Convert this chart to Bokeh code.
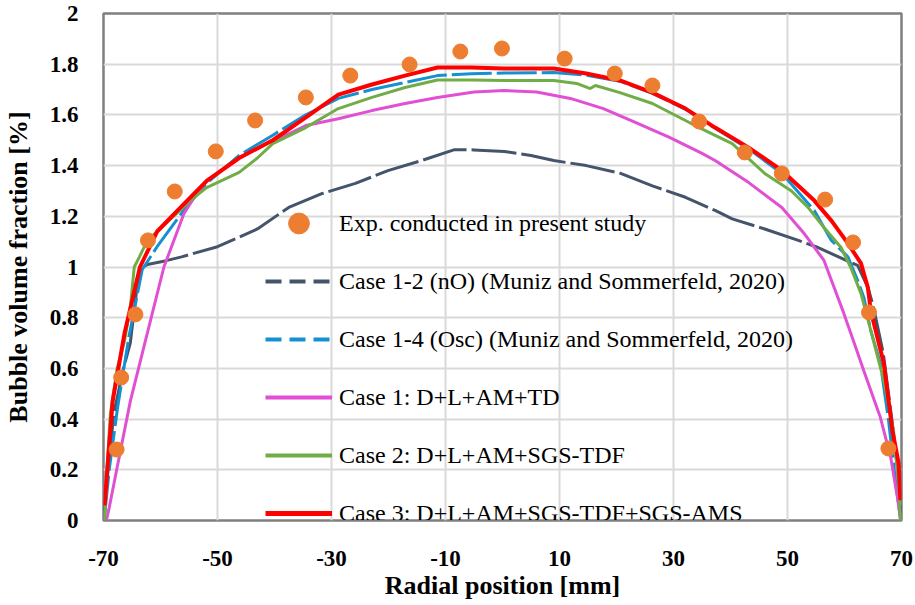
from bokeh.plotting import figure
from bokeh.models import Range1d, FixedTicker, Legend, LegendItem
from bokeh.embed import file_html
from bokeh.resources import INLINE

# ---------------- data ----------------
x_ticks = [-70, -50, -30, -10, 10, 30, 50, 70]
x_tick_labels = ["-70", "-50", "-30", "-10", "10", "30", "50", "70"]
y_ticks = [0, 0.2, 0.4, 0.6, 0.8, 1.0, 1.2, 1.4, 1.6, 1.8, 2.0]
y_tick_labels = ["0", "0.2", "0.4", "0.6", "0.8", "1", "1.2", "1.4", "1.6", "1.8", "2"]

exp_x = [-67.7, -66.9, -64.4, -62.2, -57.5, -50.3, -43.4, -34.5, -26.7, -16.3, -7.4,
         -0.1, 10.9, 19.7, 26.3, 34.5, 42.5, 49.0, 56.6, 61.5, 64.3, 67.7]
exp_y = [0.28, 0.564, 0.813, 1.105, 1.298, 1.456, 1.578, 1.669, 1.755, 1.799, 1.850,
         1.862, 1.822, 1.763, 1.716, 1.574, 1.452, 1.369, 1.266, 1.097, 0.821, 0.284]

case12_x = [-69.8, -69.2, -68.2, -66.5, -65.3, -64.5, -63.9, -63.7, -62.3, -59.0, -56.3,
            -50.0, -43.0, -37.5, -31.6, -25.8, -20.1, -14.2, -8.4, -5.0, 0.3, 5.0, 9.0,
            14.7, 20.6, 26.3, 32.1, 37.3, 40.3, 46.0, 51.9, 55.0, 57.7, 62.3, 64.1, 65.0,
            66.8, 68.3, 69.3, 69.9]
case12_y = [0.04, 0.2, 0.42, 0.6, 0.7, 0.85, 0.96, 0.99, 1.01, 1.025, 1.04,
            1.08, 1.15, 1.235, 1.29, 1.33, 1.38, 1.42, 1.463, 1.462, 1.456, 1.44, 1.42,
            1.40, 1.37, 1.32, 1.275, 1.223, 1.19, 1.15, 1.105, 1.08, 1.053, 1.006, 0.92, 0.85,
            0.66, 0.4, 0.2, 0.03]

case14_x = [-69.8, -69.0, -67.5, -65.5, -63.2, -60.6, -55.4, -51.9, -46.2, -40.3, -34.5,
            -28.8, -22.9, -17.1, -11.4, -5.5, 0.3, 9.0, 14.7, 20.6, 26.3, 32.1, 37.3,
            43.2, 49.0, 54.7, 57.7, 60.6, 62.3, 63.4, 64.6, 66.3, 67.7, 69.0, 69.8]
case14_y = [0.02, 0.2, 0.45, 0.73, 0.99, 1.08, 1.24, 1.33, 1.44, 1.52, 1.60,
            1.665, 1.70, 1.728, 1.755, 1.762, 1.765, 1.767, 1.757, 1.733, 1.685, 1.622, 1.547,
            1.465, 1.37, 1.223, 1.105, 1.04, 0.947, 0.88, 0.75, 0.62, 0.40, 0.146, 0.01]

case1_x = [-69.5, -69.0, -67.6, -65.3, -62.3, -59.4, -55.9, -54.2, -51.9, -46.2, -40.3,
           -37.0, -34.5, -28.8, -22.9, -17.1, -11.4, -5.0, 0.3, 6.0, 11.9, 17.7, 23.4,
           29.3, 35.0, 37.3, 43.2, 49.0, 53.0, 56.4, 58.0, 59.9, 61.7, 63.4, 66.3, 68.1, 69.3, 69.8]
case1_y = [0.0, 0.05, 0.21, 0.47, 0.74, 1.0, 1.21, 1.27, 1.34, 1.43, 1.50,
           1.53, 1.558, 1.585, 1.617, 1.645, 1.669, 1.69, 1.696, 1.69, 1.665, 1.625, 1.57,
           1.511, 1.448, 1.42, 1.333, 1.235, 1.13, 1.026, 0.93, 0.816, 0.70, 0.59, 0.406, 0.25, 0.09, 0.01]

case2_x = [-69.8, -69.4, -68.8, -67.6, -66.3, -65.3, -64.6, -63.7, -62.3, -59.4, -54.9,
           -51.9, -46.2, -43.0, -40.3, -34.5, -28.8, -22.9, -17.1, -11.4, -5.0, 0.3, 9.0,
           13.0, 15.4, 16.3, 20.6, 26.3, 32.1, 34.5, 40.3, 46.0, 50.7, 53.6, 56.4, 59.4,
           61.1, 62.9, 64.6, 66.9, 68.6, 69.5, 69.8]
case2_y = [0.0, 0.2, 0.42, 0.60, 0.71, 0.84, 1.0, 1.04, 1.105, 1.164, 1.26,
           1.313, 1.373, 1.43, 1.487, 1.55, 1.625, 1.669, 1.708, 1.738, 1.738, 1.736, 1.736,
           1.724, 1.704, 1.716, 1.688, 1.645, 1.578, 1.55, 1.487, 1.369, 1.30, 1.235, 1.156, 1.077,
           0.998, 0.895, 0.75, 0.552, 0.355, 0.146, 0.0]

case3_x = [-69.8, -69.3, -68.4, -66.3, -63.6, -60.6, -55.4, -51.9, -46.2, -40.3, -34.5,
           -28.8, -22.9, -17.1, -11.4, -5.5, 0.3, 9.0, 14.7, 20.6, 26.3, 32.1, 37.3,
           43.2, 49.0, 54.7, 57.7, 60.6, 62.9, 64.1, 64.6, 66.9, 68.4, 69.5, 69.8]
case3_y = [0.06, 0.21, 0.47, 0.74, 1.00, 1.14, 1.26, 1.34, 1.43, 1.50, 1.59,
           1.68, 1.72, 1.755, 1.787, 1.787, 1.783, 1.783, 1.763, 1.736, 1.688, 1.625, 1.55,
           1.471, 1.381, 1.262, 1.183, 1.093, 1.014, 0.919, 0.828, 0.619, 0.355, 0.225, 0.08]

labels = ["Exp. conducted in present study",
          "Case 1-2 (nO) (Muniz and Sommerfeld, 2020)",
          "Case 1-4 (Osc) (Muniz and Sommerfeld, 2020)",
          "Case 1: D+L+AM+TD",
          "Case 2: D+L+AM+SGS-TDF",
          "Case 3: D+L+AM+SGS-TDF+SGS-AMS"]

C_EXP = "#ED7D31"
C_12 = "#44546A"
C_14 = "#1590D0"
C_1 = "#E04FD4"
C_2 = "#70AD47"
C_3 = "#FF0000"
FONT = "Liberation Serif"
NAN = [float("nan")]

# ---------------- figure ----------------
p = figure(width=915, height=605, output_backend="svg", toolbar_location=None,
           x_range=Range1d(-70, 70), y_range=Range1d(0, 2),
           min_border_left=96, min_border_right=14, min_border_top=13, min_border_bottom=85)
p.background_fill_color = "white"
p.border_fill_color = "white"
p.outline_line_color = "#7f7f7f"
p.outline_line_width = 2.5

p.xaxis.ticker = FixedTicker(ticks=x_ticks)
p.yaxis.ticker = FixedTicker(ticks=y_ticks)
p.xaxis.major_label_overrides = {t: l for t, l in zip(x_ticks, x_tick_labels)}
p.yaxis.major_label_overrides = {t: l for t, l in zip(y_ticks, y_tick_labels)}
for ax in (p.xaxis, p.yaxis):
    ax.major_tick_line_color = None
    ax.minor_tick_line_color = None
    ax.axis_line_color = None
    ax.major_label_text_font = FONT
    ax.major_label_text_font_style = "bold"
    ax.major_label_text_font_size = "23px"
    ax.major_label_text_color = "black"
    ax.axis_label_text_font = FONT
    ax.axis_label_text_font_style = "bold"
    ax.axis_label_text_font_size = "26px"
    ax.axis_label_text_color = "black"
p.xaxis.axis_label = "Radial position [mm]"
p.yaxis.axis_label = "Bubble volume fraction [%]"
p.xaxis.major_label_standoff = 24
p.yaxis.major_label_standoff = 19
p.xaxis.axis_label_standoff = 2
p.yaxis.axis_label_standoff = 14

p.xgrid.ticker = FixedTicker(ticks=x_ticks)
p.ygrid.ticker = FixedTicker(ticks=y_ticks)
p.grid.grid_line_color = "#d9d9d9"
p.grid.grid_line_width = 2

# data lines
r12 = p.line(case12_x, case12_y, line_color=C_12, line_width=3, line_dash="45 5")
r14 = p.line(case14_x, case14_y, line_color=C_14, line_width=3, line_dash="40 5")
r1 = p.line(case1_x, case1_y, line_color=C_1, line_width=3)
r2 = p.line(case2_x, case2_y, line_color=C_2, line_width=3)
r3 = p.line(case3_x, case3_y, line_color=C_3, line_width=4)
rexp = p.scatter(exp_x, exp_y, marker="circle", size=15, fill_color=C_EXP, line_color=C_EXP)

# legend-only glyphs (NaN data: nothing drawn in the plot area)
lexp = p.scatter(NAN, NAN, marker="circle", size=21, fill_color=C_EXP, line_color=C_EXP)
l12 = p.line(NAN * 2, NAN * 2, line_color=C_12, line_width=4, line_dash="16 8")
l14 = p.line(NAN * 2, NAN * 2, line_color=C_14, line_width=4, line_dash="16 8")
l1 = p.line(NAN * 2, NAN * 2, line_color=C_1, line_width=4)
l2 = p.line(NAN * 2, NAN * 2, line_color=C_2, line_width=4)
l3 = p.line(NAN * 2, NAN * 2, line_color=C_3, line_width=5)

legend = Legend(items=[LegendItem(label=lab, renderers=[r]) for lab, r in
                       zip(labels, [lexp, l12, l14, l1, l2, l3])],
                location=(162, -19), orientation="vertical",
                label_text_font=FONT, label_text_font_size="24px", label_text_color="black",
                glyph_width=67, glyph_height=52, label_height=52, spacing=6,
                padding=0, margin=0, label_standoff=7,
                border_line_alpha=0, background_fill_alpha=0)
p.add_layout(legend)

open("out.html", "w").write(file_html(p, INLINE))
